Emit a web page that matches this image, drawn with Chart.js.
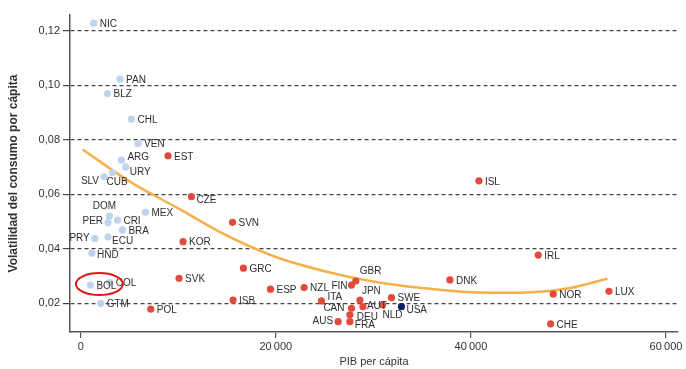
<!DOCTYPE html>
<html>
<head>
<meta charset="utf-8">
<script src="https://cdn.jsdelivr.net/npm/chart.js@4/dist/chart.umd.min.js"></script>
<style>
  html, body { margin: 0; padding: 0; background: #fff; }
  #wrap { width: 686px; height: 369px; }
</style>
</head>
<body>
<div id="wrap"><canvas id="canvas" width="686" height="369"></canvas></div>
<script>
// Latin America (light blue)
var latCodes = ['NIC', 'PAN', 'BLZ', 'CHL', 'VEN', 'ARG', 'URY', 'CUB', 'SLV', 'DOM', 'PER', 'CRI', 'MEX', 'BRA', 'PRY', 'ECU', 'HND', 'BOL', 'COL', 'GTM'];
var latGdp   = [1330, 4030, 2740, 5200, 5880, 4170, 4620, 3250, 2390, 2940, 2800, 3760, 6630, 4270, 1440, 2800, 1150, 990, 2970, 2050];
var latVol   = [0.1227, 0.1022, 0.0969, 0.0875, 0.0786, 0.0725, 0.0700, 0.0679, 0.0664, 0.0520, 0.0496, 0.0505, 0.0534, 0.0469, 0.0438, 0.0444, 0.0384, 0.0267, 0.0276, 0.0200];

// OECD (red)
var oecdCodes = ['EST', 'CZE', 'KOR', 'SVN', 'SVK', 'POL', 'GRC', 'ISB', 'ESP', 'NZL', 'ITA', 'FIN', 'GBR', 'JPN', 'CAN', 'AUT', 'DEU', 'FRA', 'AUS', 'NLD', 'SWE', 'DNK', 'ISL', 'IRL', 'NOR', 'LUX', 'CHE'];
var oecdGdp   = [8950, 11350, 10490, 15560, 10080, 7180, 16680, 15620, 19450, 22900, 24680, 27760, 28200, 28620, 27760, 28930, 27590, 27590, 26390, 30940, 31860, 37850, 40820, 46900, 48440, 54150, 48170];
var oecdVol   = [0.0741, 0.0591, 0.0426, 0.0497, 0.0292, 0.0179, 0.0329, 0.0212, 0.0252, 0.0258, 0.0209, 0.0267, 0.0282, 0.0212, 0.0182, 0.0188, 0.0158, 0.0133, 0.0133, 0.0194, 0.0221, 0.0286, 0.0649, 0.0377, 0.0234, 0.0244, 0.0125];

// United States (dark)
var usaCodes = ['USA'];
var usaGdp   = [32880];
var usaVol   = [0.0188];

// fitted curve
var fitGdp = [200, 5000, 10000, 15000, 20000, 25000, 30000, 35000, 40000, 45000, 50000, 54000];
var fitVol = [0.0764, 0.0647, 0.0548, 0.0448, 0.0370, 0.0318, 0.0280, 0.0256, 0.0241, 0.0239, 0.0255, 0.0291];

var yTicks = [0.02, 0.04, 0.06, 0.08, 0.10, 0.12];
var xTicks = [0, 20000, 40000, 60000];

function toPoints(xs, ys, codes) {
  var pts = [];
  for (var i = 0; i < xs.length; i++) {
    pts.push({ x: xs[i], y: ys[i], code: codes ? codes[i] : '' });
  }
  return pts;
}

// where a label sits relative to its dot: [dx, dy, align]
var labelPlace = {
  ARG: [6, -3, 'left'], URY: [4, 5, 'left'], CUB: [-6, 10, 'left'], SLV: [-5, 4, 'right'],
  DOM: [-5, -10, 'center'], PER: [-5, -1, 'right'], PRY: [-5, 0, 'right'], ECU: [4, 4, 'left'],
  HND: [5, 2, 'left'], CZE: [5, 4, 'left'], ITA: [6, -4, 'left'], FIN: [-4, 1, 'right'],
  GBR: [4, -10, 'left'], JPN: [2, -9, 'left'], CAN: [-7, 0, 'right'], AUT: [4, 0, 'left'],
  DEU: [7, 2, 'left'], FRA: [5, 4, 'left'], AUS: [-5, 0, 'right'], NLD: [0, 10, 'left'],
  USA: [5, 4, 'left']
};

var pointLabels = {
  id: 'pointLabels',
  afterDatasetsDraw: function(chart) {
    var ctx = chart.ctx;
    ctx.save();
    ctx.font = '10px "Liberation Sans", Arial, sans-serif';
    ctx.fillStyle = '#2e2e2e';
    ctx.textBaseline = 'middle';
    chart.data.datasets.forEach(function(ds, di) {
      if (!ds.labelled) return;
      chart.getDatasetMeta(di).data.forEach(function(el, i) {
        var code = ds.data[i].code;
        var p = labelPlace[code] || [6, 1, 'left'];
        ctx.textAlign = p[2];
        ctx.fillText(code, el.x + p[0], el.y + p[1]);
      });
    });
    ctx.restore();
  }
};

// red ring drawn round Bolivia
var ring = {
  id: 'ring',
  afterDatasetsDraw: function(chart) {
    var xs = chart.scales.x, ys = chart.scales.y;
    var i = latCodes.indexOf('BOL');
    var cx = xs.getPixelForValue(latGdp[i]) + 9;
    var cy = ys.getPixelForValue(latVol[i]) - 1;
    var ctx = chart.ctx;
    ctx.save();
    ctx.strokeStyle = '#e3161b';
    ctx.lineWidth = 2;
    ctx.beginPath();
    ctx.ellipse(cx, cy, 23.5, 11, 0, 0, Math.PI * 2);
    ctx.stroke();
    ctx.restore();
  }
};

var tickFont = { family: '"Liberation Sans", Arial, sans-serif', size: 11 };

new Chart(document.getElementById('canvas').getContext('2d'), {
  type: 'scatter',
  data: {
    datasets: [{
      label: 'ajuste',
      data: toPoints(fitGdp, fitVol),
      showLine: true,
      borderColor: '#f5b04a',
      borderWidth: 2.5,
      pointRadius: 0,
      tension: 0.4,
      cubicInterpolationMode: 'monotone',
      order: 3
    }, {
      label: 'América Latina',
      data: toPoints(latGdp, latVol, latCodes),
      backgroundColor: '#bfd3ee',
      pointRadius: 3.6,
      borderWidth: 0,
      labelled: true,
      order: 2
    }, {
      label: 'OCDE',
      data: toPoints(oecdGdp, oecdVol, oecdCodes),
      backgroundColor: '#e24a3b',
      pointRadius: 3.6,
      borderWidth: 0,
      labelled: true,
      order: 1
    }, {
      label: 'Estados Unidos',
      data: toPoints(usaGdp, usaVol, usaCodes),
      backgroundColor: '#0e2160',
      pointRadius: 3.6,
      borderWidth: 0,
      labelled: true,
      order: 0
    }]
  },
  options: {
    responsive: false,
    animation: false,
    events: [],
    layout: { padding: { top: 15, right: 8, left: 0, bottom: 0 } },
    plugins: { legend: { display: false }, tooltip: { enabled: false } },
    scales: {
      x: {
        type: 'linear',
        min: -1100,
        max: 61230,
        afterBuildTicks: function(scale) { scale.ticks = xTicks.map(function(v) { return { value: v }; }); },
        afterFit: function(scale) { scale.height = 37; },
        grid: { drawOnChartArea: false, tickLength: 6, color: '#555', lineWidth: 1.2 },
        border: { color: '#555', width: 1.5 },
        ticks: {
          font: tickFont, color: '#333', padding: 2, maxRotation: 0,
          callback: function(v) { return v === 0 ? '0' : (v / 1000) + '\u2009000'; }
        },
        title: {
          display: true, text: 'PIB per cápita', color: '#333',
          font: { family: '"Liberation Sans", Arial, sans-serif', size: 11 },
          padding: { top: 0, bottom: 0 }
        }
      },
      y: {
        type: 'linear',
        min: 0.0095,
        max: 0.1257,
        afterBuildTicks: function(scale) { scale.ticks = yTicks.map(function(v) { return { value: v }; }); },
        afterFit: function(scale) { scale.width = 70; },
        grid: { color: '#444', lineWidth: 1.2, tickLength: 7 },
        border: { color: '#555', width: 1.5, dash: [4, 3] },
        ticks: {
          font: tickFont, color: '#333', padding: 3,
          callback: function(v) { return v.toFixed(2).replace('.', ','); }
        },
        title: {
          display: true, text: 'Volatilidad del consumo por cápita', color: '#333',
          font: { family: '"Liberation Sans", Arial, sans-serif', size: 12, weight: 'bold' },
          padding: { top: 6, bottom: 0 }
        }
      }
    }
  },
  plugins: [pointLabels, ring]
});
</script>
</body>
</html>
